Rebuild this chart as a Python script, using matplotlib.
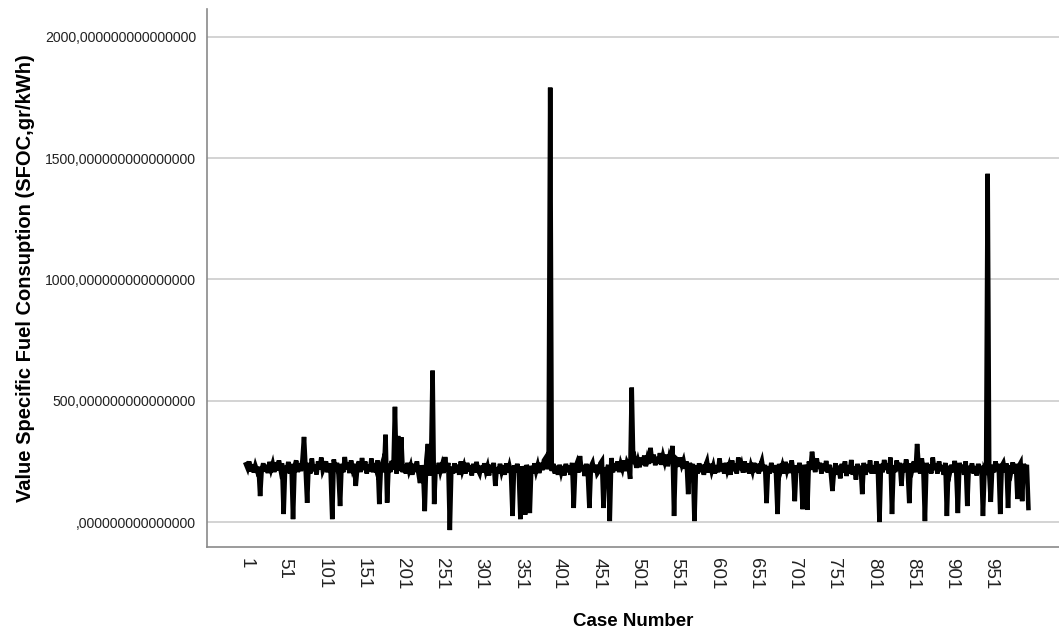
import numpy as np
import matplotlib.pyplot as plt
from matplotlib.ticker import FuncFormatter

plt.rcParams['font.family'] = ['Liberation Sans', 'DejaVu Sans']

# SFOC values, every second case, one row per 50 cases
sfoc_rows = [
    [238, 222, 250, 208, 238, 204, 232, 212, 228, 107, 215, 242, 208, 235, 202, 248, 218, 240, 206, 246, 212, 254, 218, 242, 33],
    [232, 208, 248, 200, 240, 12, 230, 254, 206, 242, 210, 256, 351, 222, 79, 244, 200, 262, 210, 236, 196, 250, 218, 266, 212],
    [228, 250, 205, 242, 200, 12, 258, 212, 244, 196, 66, 240, 205, 268, 218, 244, 202, 254, 220, 240, 149, 224, 250, 206, 264],
    [214, 250, 200, 236, 210, 262, 205, 242, 218, 254, 74, 222, 244, 205, 360, 80, 240, 206, 252, 215, 475, 200, 355, 210, 350],
    [205, 236, 200, 244, 212, 232, 195, 240, 206, 250, 200, 161, 234, 202, 45, 254, 322, 192, 240, 624, 74, 232, 200, 244, 210],
    [234, 202, 268, 210, 244, -33, 228, 200, 242, 206, 236, 195, 250, 212, 232, 200, 244, 208, 234, 192, 240, 204, 248, 214, 200],
    [232, 204, 242, 210, 230, 192, 236, 206, 244, 149, 226, 200, 240, 208, 232, 195, 242, 204, 230, 200, 25, 234, 206, 240, 202],
    [12, 230, 200, 30, 236, 204, 37, 232, 200, 242, 210, 234, 202, 244, 214, 254, 264, 218, 250, 1790, 210, 240, 200, 232, 195],
    [236, 205, 230, 192, 240, 206, 232, 195, 244, 58, 224, 242, 204, 272, 210, 234, 190, 240, 200, 58, 230, 244, 205, 236, 200],
    [210, 242, 252, 58, 226, 200, 236, 4, 264, 205, 242, 212, 250, 206, 240, 220, 254, 210, 246, 232, 178, 554, 240, 258, 224],
    [252, 226, 266, 236, 274, 230, 262, 240, 306, 246, 278, 234, 268, 240, 284, 236, 272, 248, 278, 230, 266, 244, 314, 25, 264],
    [258, 228, 266, 236, 254, 220, 250, 115, 244, 212, 240, 4, 234, 200, 242, 206, 236, 195, 232, 250, 204, 240, 210, 232, 200],
    [234, 205, 262, 210, 240, 200, 244, 212, 232, 195, 254, 210, 240, 200, 266, 215, 236, 204, 250, 206, 242, 200, 232, 210, 244],
    [206, 240, 200, 232, 252, 210, 236, 78, 230, 200, 244, 206, 234, 202, 33, 240, 210, 232, 200, 248, 215, 240, 202, 254, 210],
    [86, 234, 206, 244, 200, 53, 236, 210, 50, 250, 215, 290, 240, 206, 262, 220, 244, 200, 240, 210, 252, 204, 236, 200, 128],
    [210, 242, 195, 232, 180, 240, 204, 250, 190, 234, 200, 256, 195, 230, 175, 240, 200, 232, 115, 244, 195, 236, 206, 254, 200],
    [232, 200, 250, 210, 0, 240, 205, 256, 215, 242, 200, 266, 33, 234, 206, 254, 212, 244, 149, 240, 206, 258, 218, 78, 242],
    [220, 250, 205, 322, 234, 200, 262, 212, 4, 244, 206, 236, 200, 266, 215, 240, 200, 250, 210, 234, 195, 244, 25, 232, 206],
    [236, 205, 252, 200, 37, 244, 210, 236, 195, 250, 66, 232, 205, 242, 200, 230, 192, 240, 206, 232, 25, 210, 195, 1435, 200],
    [83, 236, 205, 250, 212, 240, 33, 232, 244, 206, 242, 58, 234, 210, 246, 200, 240, 95, 232, 244, 86, 240, 210, 236, 58],
]
sfoc = np.concatenate(sfoc_rows)
cases = np.arange(1, 2 * len(sfoc), 2)
tick_cases = np.arange(1, 1000, 50)
y_ticks = [0, 500, 1000, 1500, 2000]


def spss_fmt(v, pos):
    s = "%.15f" % v
    s = s.replace(".", ",")
    if s.startswith("0,"):
        s = s[1:]
    return s


fig = plt.figure(figsize=(10.59, 6.31), dpi=100)
ax = fig.add_axes([0.1955, 0.133, 0.8045, 0.852])

ax.plot(cases, sfoc, color='black', lw=3.3, solid_joinstyle='miter')

ax.set_xlim(-48.7, 1038)
ax.set_ylim(-103, 2112)
ax.set_xticks(tick_cases)
ax.set_xticklabels([str(c) for c in tick_cases], rotation=-90, fontsize=13.5, color='#222222')
ax.set_yticks(y_ticks)
ax.yaxis.set_major_formatter(FuncFormatter(spss_fmt))
ax.tick_params(axis='y', labelsize=10.1, length=0, pad=8, colors='#222222')
ax.tick_params(axis='x', length=0, pad=8)

ax.grid(axis='y', color='#c8c8c8', lw=1.1)
ax.set_axisbelow(True)
for side in ['top', 'right']:
    ax.spines[side].set_visible(False)
for side in ['left', 'bottom']:
    ax.spines[side].set_color('#8a8a8a')
    ax.spines[side].set_linewidth(1.2)

ax.set_xlabel('Case Number', fontsize=13.5, fontweight='bold', labelpad=17)
ax.set_ylabel('Value Specific Fuel Consuption (SFOC,gr/kWh)', fontsize=14.5, fontweight='bold')
ax.yaxis.set_label_coords(-0.202, 0.5)

fig.savefig('out.png', dpi=100)
